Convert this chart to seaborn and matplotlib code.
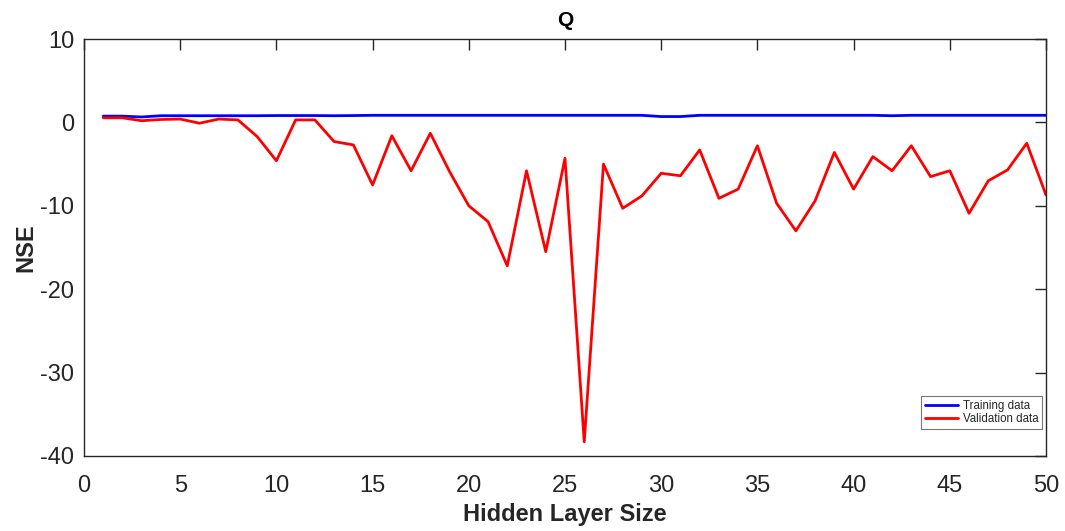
import numpy as np
import pandas as pd
import matplotlib
matplotlib.use("Agg")
import matplotlib.pyplot as plt
import seaborn as sns

hidden_sizes = list(range(1, 51))
training_nse = [0.75, 0.75, 0.65, 0.8, 0.8, 0.8, 0.8, 0.8, 0.8, 0.82,
                0.82, 0.82, 0.8, 0.82, 0.85, 0.85, 0.85, 0.85, 0.85, 0.85,
                0.85, 0.85, 0.85, 0.85, 0.85, 0.85, 0.85, 0.85, 0.85, 0.7,
                0.7, 0.85, 0.85, 0.85, 0.85, 0.85, 0.85, 0.85, 0.85, 0.85,
                0.85, 0.8, 0.85, 0.85, 0.85, 0.85, 0.85, 0.85, 0.85, 0.85]
validation_nse = [0.55, 0.55, 0.2, 0.35, 0.4, -0.1, 0.4, 0.3, -1.7, -4.6,
                  0.3, 0.3, -2.3, -2.7, -7.5, -1.6, -5.8, -1.3, -5.9, -10.0,
                  -11.9, -17.2, -5.8, -15.5, -4.3, -38.3, -5.0, -10.3, -8.8, -6.1,
                  -6.4, -3.3, -9.1, -8.0, -2.8, -9.7, -13.0, -9.4, -3.6, -8.0,
                  -4.1, -5.8, -2.8, -6.5, -5.8, -10.9, -7.0, -5.7, -2.5, -8.7]
series_names = ["Training data", "Validation data"]
series_colors = ["#0000ff", "#ff0000"]
x_ticks = [0, 5, 10, 15, 20, 25, 30, 35, 40, 45, 50]
y_ticks = [-40, -30, -20, -10, 0, 10]

df = pd.DataFrame({
    "Hidden Layer Size": hidden_sizes * 2,
    "NSE": training_nse + validation_nse,
    "series": [series_names[0]] * len(hidden_sizes) + [series_names[1]] * len(hidden_sizes),
})

sns.set_style("white")
plt.rcParams["font.family"] = ["Liberation Sans", "DejaVu Sans"]
plt.rcParams["axes.unicode_minus"] = False

fig = plt.figure(figsize=(10.65, 5.31), dpi=100)
ax = fig.add_axes([84 / 1065, 1 - 456 / 531, (1046 - 84) / 1065, (456 - 39) / 531])

sns.lineplot(data=df, x="Hidden Layer Size", y="NSE", hue="series",
             palette=dict(zip(series_names, series_colors)), linewidth=2.0,
             ax=ax, legend=True)

ax.set_xlim(0, 50)
ax.set_ylim(-40, 10)
ax.set_xticks(x_ticks)
ax.set_yticks(y_ticks)
text_col = "#262626"
ax.tick_params(axis="both", direction="in", length=8, width=1.0, colors=text_col,
               labelsize=17, top=True, right=True)
ax.tick_params(axis="x", pad=14)
ax.tick_params(axis="y", pad=7)
for s in ax.spines.values():
    s.set_color(text_col)
    s.set_linewidth(1.0)
    s.set_visible(True)

ax.set_xlabel("Hidden Layer Size", fontsize=17, fontweight="bold", color=text_col, labelpad=4)
ax.set_ylabel("NSE", fontsize=17, fontweight="bold", color=text_col, labelpad=2)
ax.set_title("Q", fontsize=15, fontweight="bold", color="black", pad=9)

leg = ax.legend(loc="lower right", bbox_to_anchor=(0.9955, 0.065), fontsize=8.3,
                frameon=True, fancybox=False, edgecolor="#555555", handlelength=2.9,
                borderpad=0.3, labelspacing=0.15, handletextpad=0.4, borderaxespad=0)
leg.get_frame().set_linewidth(0.8)
for line in leg.get_lines():
    line.set_linewidth(2)

fig.savefig("out.png", dpi=100)
